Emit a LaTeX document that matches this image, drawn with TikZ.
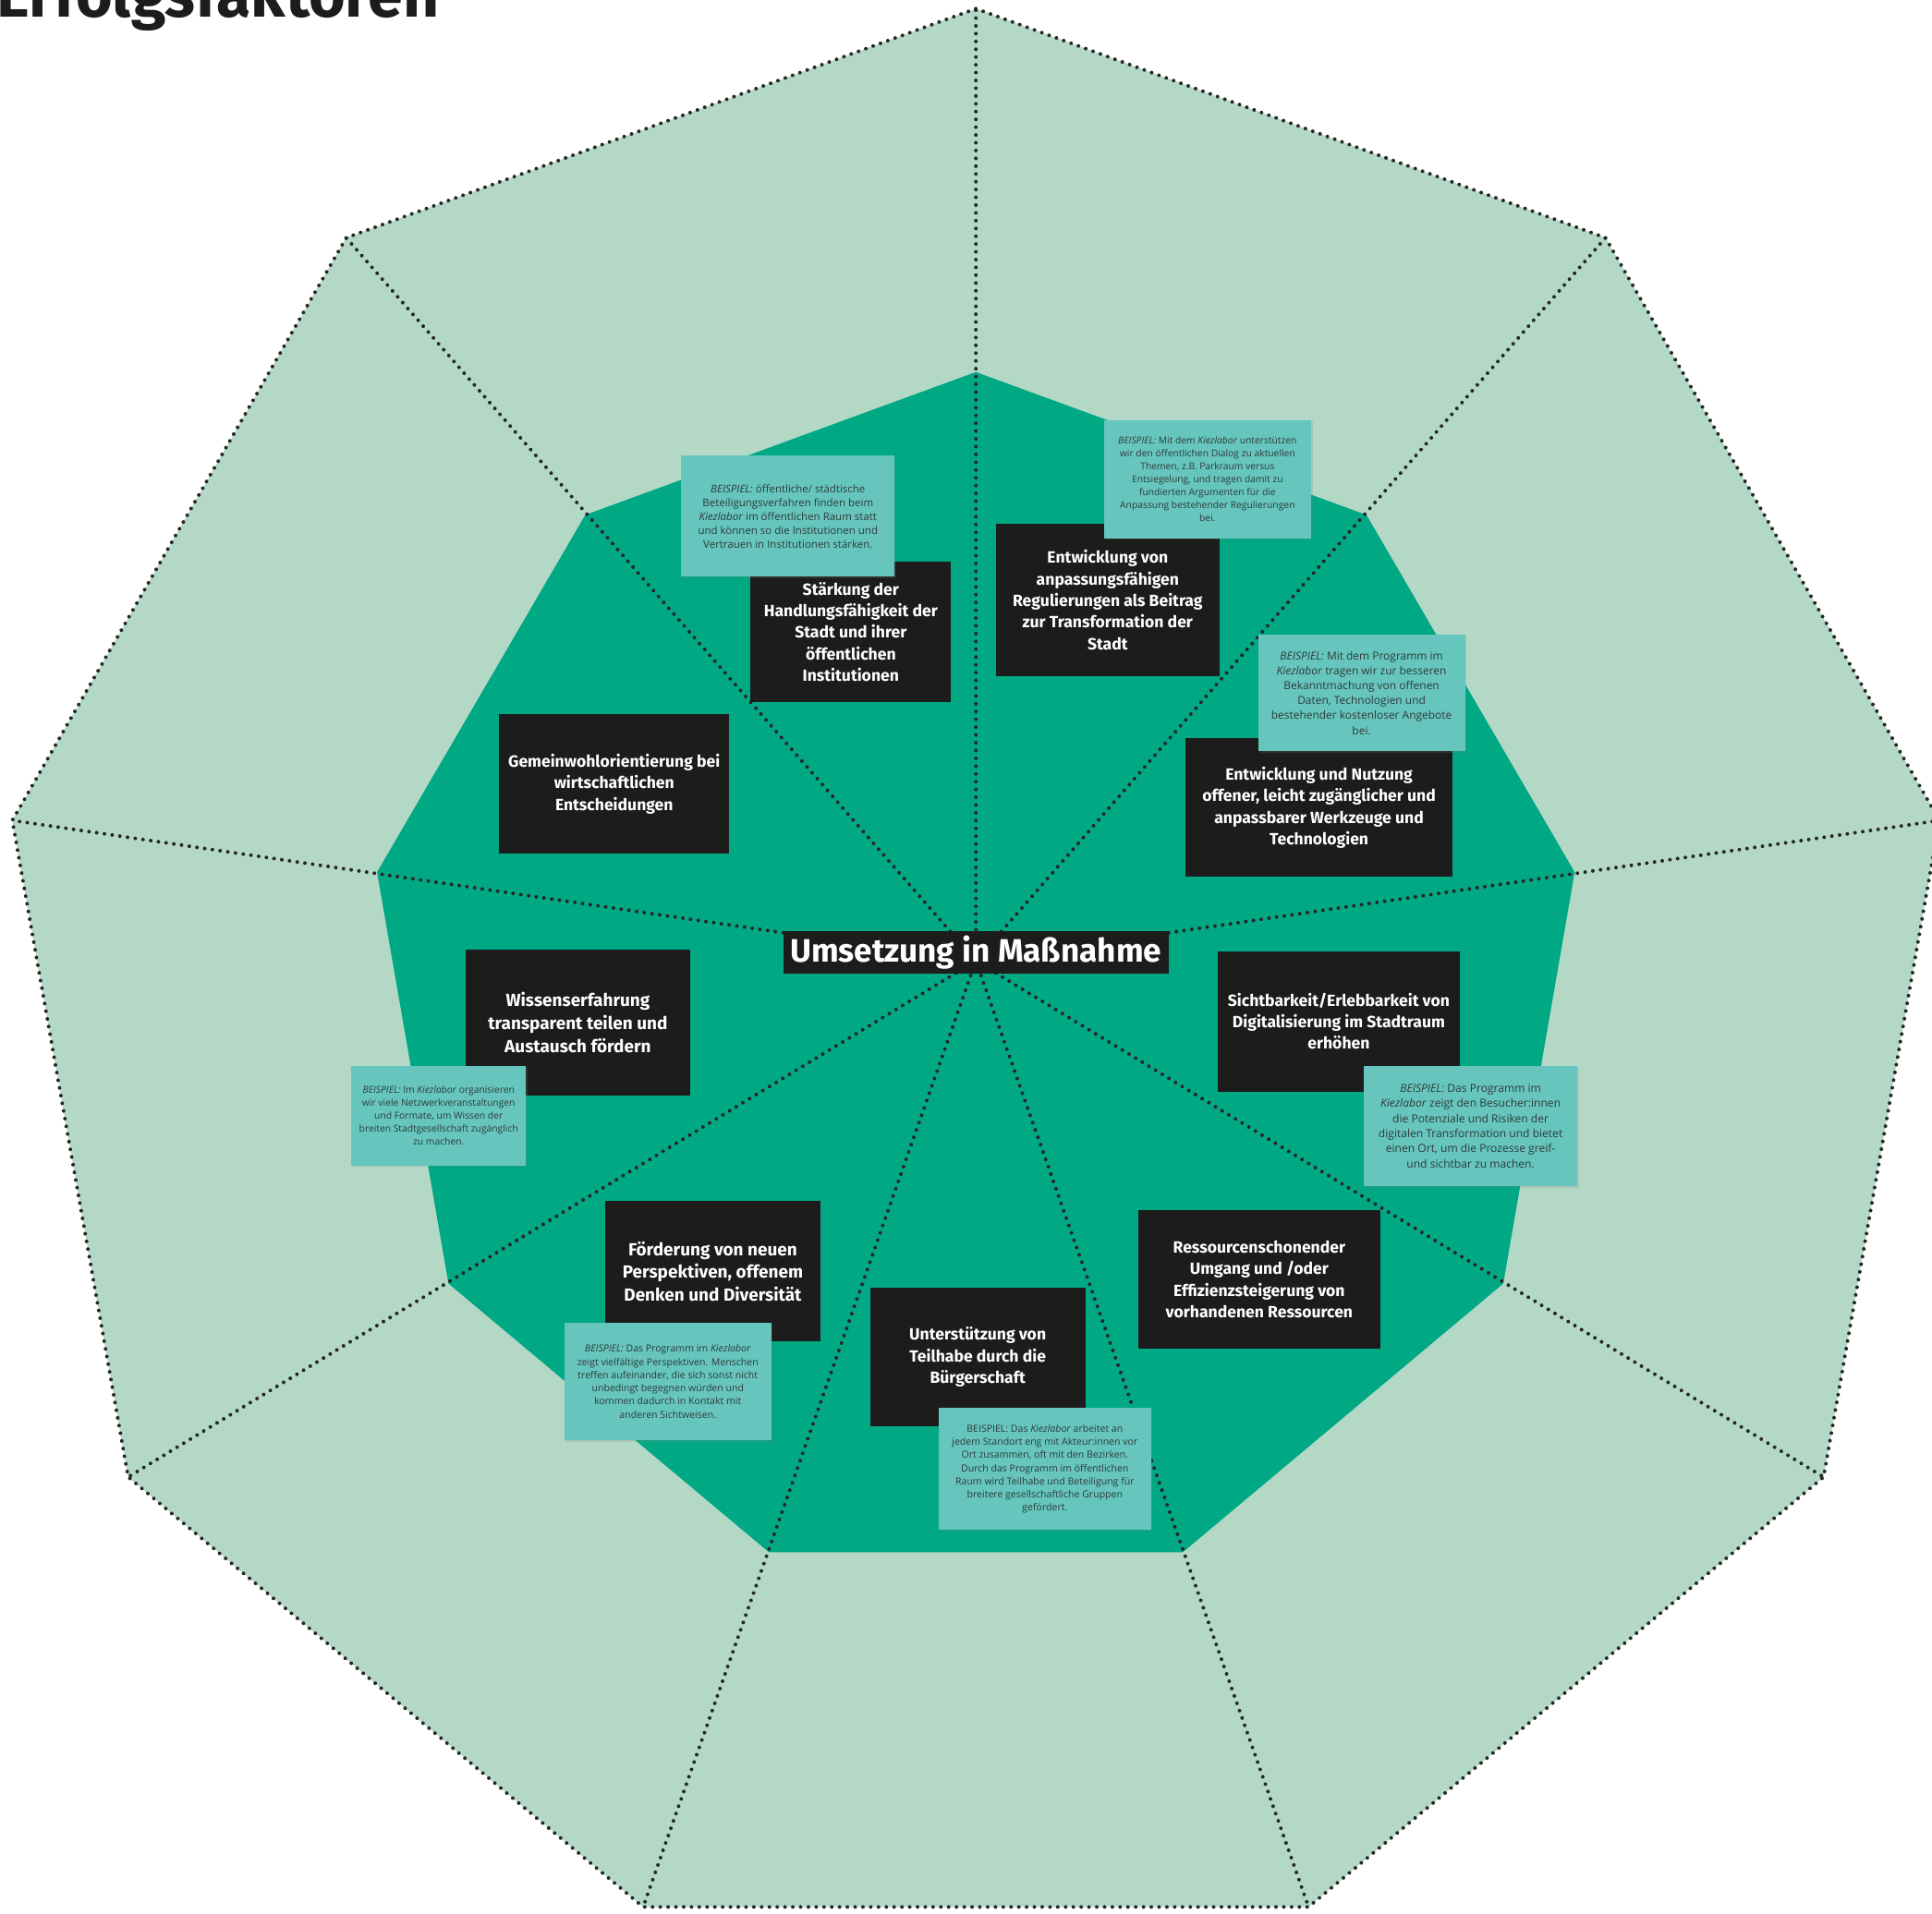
\documentclass[tikz,border=0pt]{standalone}
\usepackage{fontspec}
\setmainfont{Open Sans}
\newfontfamily\plexfont{Fira Sans}
\usetikzlibrary{positioning}
\usetikzlibrary{shadows}
\definecolor{aussen}{HTML}{B3D9C6}
\definecolor{innen}{HTML}{00A884}
\definecolor{kasten}{HTML}{1C1C1C}
\definecolor{notiz}{HTML}{66C6BE}
\definecolor{notiztext}{HTML}{2E3A38}
\definecolor{punkte}{HTML}{262626}
\tikzset{
  faktor/.style={fill=kasten,text=white,align=center,inner sep=0pt,
    font=\plexfont\bfseries\fontsize{7.5}{10}\selectfont},
  beispiel/.style={fill=notiz,text=notiztext,align=center,inner sep=0pt,
    drop shadow={opacity=0.2,shadow xshift=0.7pt,shadow yshift=-0.7pt}},
  notesize/.style 2 args={font=\fontsize{#1}{#2}\selectfont},
  strahl/.style={punkte,line width=1.7pt,line cap=round,dash pattern=on 0pt off 3.6pt},
}

\begin{document}
\begin{tikzpicture}[x=0.02cm,y=-0.02cm]

\fill[white] (0,0) rectangle (1568,1553);
\useasboundingbox (0,0) rectangle (1568,1553);

% outer and inner nonagon
\coordinate (o0) at (792,7);
\coordinate (o1) at (1303,193);
\coordinate (o2) at (1574,666);
\coordinate (o3) at (1480,1199);
\coordinate (o4) at (1062,1548);
\coordinate (o5) at (522,1548);
\coordinate (o6) at (104,1199);
\coordinate (o7) at (10,666);
\coordinate (o8) at (281,193);
\coordinate (i0) at (792,302);
\coordinate (i1) at (1109,418);
\coordinate (i2) at (1278,708);
\coordinate (i3) at (1220,1042);
\coordinate (i4) at (960,1260);
\coordinate (i5) at (624,1260);
\coordinate (i6) at (364,1042);
\coordinate (i7) at (306,708);
\coordinate (i8) at (475,418);
\coordinate (mitte) at (792,780);

\fill[aussen] (o0) -- (o1) -- (o2) -- (o3) -- (o4) -- (o5) -- (o6) -- (o7) -- (o8) -- cycle;
\fill[innen] (i0) -- (i1) -- (i2) -- (i3) -- (i4) -- (i5) -- (i6) -- (i7) -- (i8) -- cycle;
\foreach \k in {0,...,8} \draw[strahl] (mitte) -- (o\k);
\draw[strahl] (o0) -- (o1) -- (o2) -- (o3) -- (o4) -- (o5) -- (o6) -- (o7) -- (o8) -- cycle;

\node (titel) [anchor=base east,inner sep=0pt,text=kasten,font=\plexfont\bfseries\fontsize{29}{32}\selectfont] at (357,14) {Erfolgsfaktoren};

% success factors
\node (staerkung) [faktor,minimum width=3.26cm,minimum height=2.28cm] at (690.5,513) {St\"arkung der\\Handlungsf\"ahigkeit der\\Stadt und ihrer\\\"offentlichen\\Institutionen};
\node (regulierung) [faktor,minimum width=3.64cm,minimum height=2.48cm] at (899,487) {Entwicklung von\\anpassungsf\"ahigen\\Regulierungen als Beitrag\\zur Transformation der\\Stadt};
\node (werkzeuge) [faktor,minimum width=4.34cm,minimum height=2.26cm] at (1070.5,655.5) {Entwicklung und Nutzung\\offener, leicht zug\"anglicher und\\anpassbarer Werkzeuge und\\Technologien};
\node (sichtbarkeit) [faktor,minimum width=3.94cm,minimum height=2.28cm] at (1086.5,829) {Sichtbarkeit/Erlebbarkeit von\\Digitalisierung im Stadtraum\\erh\"ohen};
\node (ressourcen) [faktor,minimum width=3.92cm,minimum height=2.26cm] at (1022,1038.5) {Ressourcenschonender\\Umgang und /oder\\Effizienzsteigerung von\\vorhandenen Ressourcen};
\node (teilhabe) [faktor,minimum width=3.5cm,minimum height=2.26cm] at (793.5,1101.5) {Unterst\"utzung von\\Teilhabe durch die\\B\"urgerschaft};
\node (perspektiven) [faktor,minimum width=3.5cm,minimum height=2.28cm,font=\plexfont\bfseries\fontsize{8.1}{10.5}\selectfont] at (578.5,1032) {F\"orderung von neuen\\Perspektiven, offenem\\Denken und Diversit\"at};
\node (wissen) [faktor,minimum width=3.64cm,minimum height=2.36cm,font=\plexfont\bfseries\fontsize{8.1}{10.5}\selectfont] at (469,830) {Wissenserfahrung\\transparent teilen und\\Austausch f\"ordern};
\node (gemeinwohl) [faktor,minimum width=3.74cm,minimum height=2.26cm] at (498.5,636.5) {Gemeinwohlorientierung bei\\wirtschaftlichen\\Entscheidungen};

\node (umsetzung) [faktor,minimum width=6.26cm,minimum height=0.68cm,font=\plexfont\bfseries\fontsize{15}{16}\selectfont] at (mitte |- 0,773) {Umsetzung in Ma\ss nahme};

% examples
\node (nStaerkung) [beispiel,notesize={4.9}{6.4},minimum width=3.46cm,minimum height=1.96cm] at (639.5,419) {\textit{BEISPIEL:} \"offentliche/ st\"adtische\\Beteiligungsverfahren finden beim\\\textit{Kiezlabor} im \"offentlichen Raum statt\\und k\"onnen so die Institutionen und\\Vertrauen in Institutionen st\"arken.};
\node (nRegulierung) [beispiel,notesize={4.4}{6},minimum width=3.36cm,minimum height=1.92cm] at (980,389) {\textit{BEISPIEL:} Mit dem \textit{Kiezlabor} unterst\"utzen\\wir den \"offentlichen Dialog zu aktuellen\\Themen, z.B. Parkraum versus\\Entsiegelung, und tragen damit zu\\fundierten Argumenten f\"ur die\\Anpassung bestehender Regulierungen\\bei.};
\node (nWerkzeuge) [beispiel,notesize={5.1}{6.9},minimum width=3.36cm,minimum height=1.9cm] at (1105,562.5) {\textit{BEISPIEL:} Mit dem Programm im\\\textit{Kiezlabor} tragen wir zur besseren\\Bekanntmachung von offenen\\Daten, Technologien und\\bestehender kostenloser Angebote\\bei.};
\node (nSichtbarkeit) [beispiel,notesize={5.15}{7},minimum width=3.46cm,minimum height=1.96cm] at (1193.5,914) {\textit{BEISPIEL:} Das Programm im\\\textit{Kiezlabor} zeigt den Besucher:innen\\die Potenziale und Risiken der\\digitalen Transformation und bietet\\einen Ort, um die Prozesse greif-\\und sichtbar zu machen.};
\node (nTeilhabe) [beispiel,notesize={4.5}{6.1},minimum width=3.44cm,minimum height=1.98cm] at (848,1192.5) {BEISPIEL: Das \textit{Kiezlabor} arbeitet an\\jedem Standort eng mit Akteur:innen vor\\Ort zusammen, oft mit den Bezirken.\\Durch das Programm im \"offentlichen\\Raum wird Teilhabe und Beteiligung f\"ur\\breitere gesellschaftliche Gruppen\\gef\"ordert.};
\node (nPerspektiven) [beispiel,notesize={4.5}{6.1},minimum width=3.36cm,minimum height=1.9cm] at (542,1121.5) {\textit{BEISPIEL:} Das Programm im \textit{Kiezlabor}\\zeigt vielf\"altige Perspektiven. Menschen\\treffen aufeinander, die sich sonst nicht\\unbedingt begegnen w\"urden und\\kommen dadurch in Kontakt mit\\anderen Sichtweisen.};
\node (nWissen) [beispiel,notesize={4.4}{6},minimum width=2.84cm,minimum height=1.62cm] at (356,905.5) {\textit{BEISPIEL:} Im \textit{Kiezlabor} organisieren\\wir viele Netzwerkveranstaltungen\\und Formate, um Wissen der\\breiten Stadtgesellschaft zug\"anglich\\zu machen.};

\end{tikzpicture}
\end{document}
